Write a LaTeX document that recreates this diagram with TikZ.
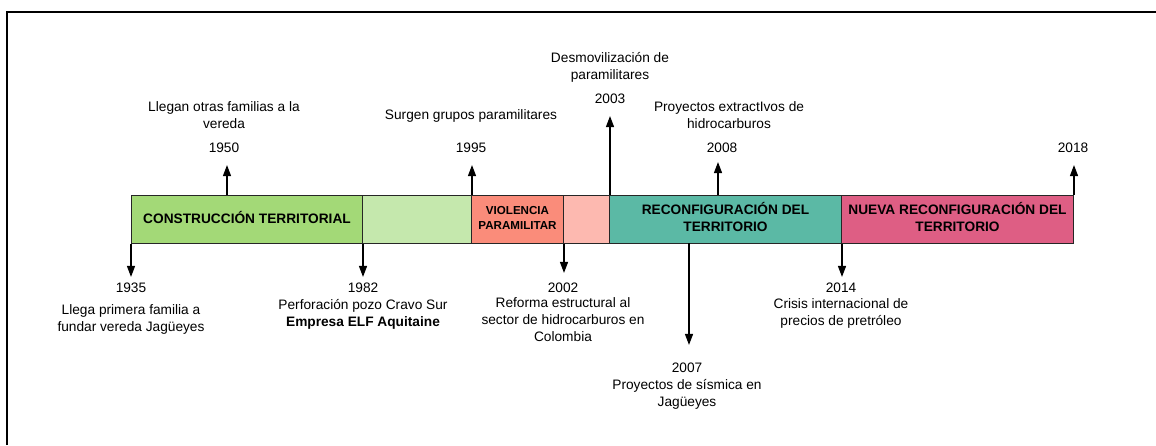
\documentclass[tikz,border=0pt]{standalone}
\usepackage{fontspec}
\setmainfont{Liberation Sans}
\usetikzlibrary{arrows.meta,positioning}
\usepackage{xcolor}
\definecolor{verde}{HTML}{A3D977}
\definecolor{verdeclaro}{HTML}{C5E8AD}
\definecolor{salmon}{HTML}{FA8C7A}
\definecolor{salmonclaro}{HTML}{FDB9B0}
\definecolor{turquesa}{HTML}{5BB9A5}
\definecolor{rosa}{HTML}{DE5E84}

\begin{document}
\begin{tikzpicture}[x=1pt,y=-1pt]
      \tikzstyle{etapa} = [rectangle, draw=black!85, line width=1pt, minimum height=48pt, inner sep=0pt, text depth=4pt, anchor=west, align=center, font=\fontsize{13.7}{17}\selectfont\bfseries]
      \tikzstyle{anio} = [inner sep=2pt, font=\fontsize{13.7}{17}\selectfont]
      \tikzstyle{texto} = [inner sep=0pt, align=center, font=\fontsize{13.7}{17}\selectfont]
      \tikzstyle{evento} = [-{Triangle[length=11pt,width=8pt]}, line width=1.3pt]
      \tikzstyle{baja} = [evento, shorten >=4pt]
      \tikzstyle{sube} = [evento, shorten >=10pt]

      \useasboundingbox (0,0) rectangle (1156,445);
      \draw[line width=1.3pt] (7,445) -- (7,12) -- (1156,12);

      % etapas
      \node[etapa, fill=verde, minimum width=231pt] (ct) at (131,219) {CONSTRUCCIÓN TERRITORIAL};
      \node[etapa, fill=verdeclaro, minimum width=109pt] (ct2) at (362,219) {};
      \node[etapa, fill=salmon, minimum width=92pt, text depth=3pt, font=\fontsize{11.6}{15}\selectfont\bfseries] (vp) at (471,219) {VIOLENCIA\\PARAMILITAR};
      \node[etapa, fill=salmonclaro, minimum width=46pt] (vp2) at (563,219) {};
      \node[etapa, fill=turquesa, minimum width=232pt] (rt) at (609,219) {RECONFIGURACIÓN DEL\\TERRITORIO};
      \node[etapa, fill=rosa, minimum width=232pt] (nrt) at (841,219) {NUEVA RECONFIGURACIÓN DEL\\TERRITORIO};

      \coordinate (p1950) at (227,195);
      \coordinate (p2007) at (689,243);
      \coordinate (p2008) at (718,195);

      % eventos abajo
      \node[anio] (y1935) at (131,288) {1935};
      \node[texto] (d1935) at (131,319.5) {Llega primera familia a\\fundar vereda Jagüeyes};
      \node[anio] (y1982) at (363,288) {1982};
      \node[texto] (d1982) at (363,314) {Perforación pozo Cravo Sur\\\textbf{Empresa ELF Aquitaine}};
      \node[anio] (y2002) at (563,288) {2002};
      \node[texto] (d2002) at (563,320) {Reforma estructural al\\sector de hidrocarburos en\\Colombia};
      \node[anio] (y2007) at (687,368) {2007};
      \node[texto] (d2007) at (687,394.5) {Proyectos de sísmica en\\Jagüeyes};
      \node[anio] (y2014) at (841,288) {2014};
      \node[texto] (d2014) at (841,313.5) {Crisis internacional de\\precios de pretróleo};

      % eventos arriba
      \node[anio] (y1950) at (224,148) {1950};
      \node[texto] (d1950) at (224,115.5) {Llegan otras familias a la\\vereda};
      \node[anio] (y1995) at (471,148) {1995};
      \node[texto] (d1995) at (471,116) {Surgen grupos paramilitares};
      \node[anio] (y2003) at (610,99) {2003};
      \node[texto] (d2003) at (610,67.5) {Desmovilización de\\paramilitares};
      \node[anio] (y2008) at (722,148) {2008};
      \node[texto] (d2008) at (729,115.5) {Proyectos extractIvos de\\hidrocarburos};
      \node[anio] (y2018) at (1073,148) {2018};

      \draw[baja] (ct.south west) -- (ct.south west |- y1935.north);
      \draw[baja] (ct.south east) -- (ct.south east |- y1982.north);
      \draw[baja, shorten >=8pt] (vp.south east) -- (vp.south east |- y2002.north);
      \draw[baja, shorten >=16pt] (p2007) -- (p2007 |- y2007.north);
      \draw[baja] (rt.south east) -- (rt.south east |- y2014.north);
      \draw[sube] (p1950) -- (p1950 |- y1950.south);
      \draw[sube] (ct2.north east) -- (ct2.north east |- y1995.south);
      \draw[sube] (vp2.north east) -- (vp2.north east |- y2003.south);
      \draw[sube, shorten >=7pt] (p2008) -- (p2008 |- y2008.south);
      \draw[sube] (nrt.north east) -- (nrt.north east |- y2018.south);
    \end{tikzpicture}
\end{document}
